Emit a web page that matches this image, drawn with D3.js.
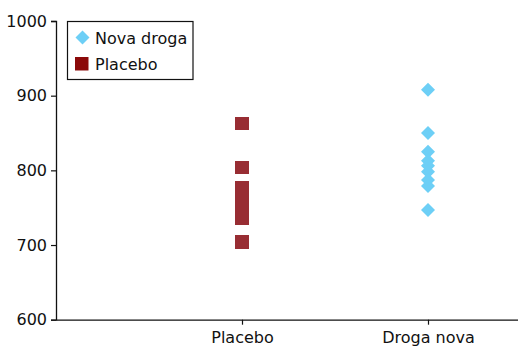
<!DOCTYPE html>
<html>
<head>
<meta charset="utf-8">
<script src="https://d3js.org/d3.v7.min.js"></script>
<style>
  body { margin: 0; background: #fff; }
  svg { display: block; font-family: "DejaVu Sans", sans-serif; }
</style>
</head>
<body>
<svg width="518" height="347" id="mainsvg"></svg>
<script>
  // data
  const categories = ['Placebo', 'Droga nova'];
  const placeboValues = [863, 804, 777, 762, 748, 736, 704];
  const novaValues = [908, 850, 825, 813, 806, 798, 787, 779, 747];
  const yTicks = [600, 700, 800, 900, 1000];
  const legendLabels = ['Nova droga', 'Placebo'];

  const svg = d3.select('#mainsvg');
  const font = '"DejaVu Sans", sans-serif';

  const xScale = d3.scaleLinear().domain([0, 2.5]).range([56, 521]);
  const yScale = d3.scaleLinear().domain([600, 1000]).range([319.7, 21]);

  const colorNova = '#6dcff6';
  const colorPlacebo = '#982d33';
  const colorPlaceboLegend = '#8b0a0a';

  // y axis
  const yAxis = d3.axisLeft(yScale).tickValues(yTicks).tickFormat(d3.format('d'))
    .tickSize(5).tickPadding(4);
  const yg = svg.append('g').attr('transform', 'translate(56,0)').call(yAxis);
  yg.select('.domain').attr('stroke', '#111').attr('stroke-width', 1.3);
  yg.selectAll('.tick line').attr('stroke', '#111').attr('stroke-width', 1.2);
  yg.selectAll('.tick text').attr('font-size', '16px').attr('fill', '#111')
    .attr('font-family', font);

  // x axis
  const xAxis = d3.axisBottom(xScale).tickValues([1, 2])
    .tickFormat(d => categories[d - 1]).tickSize(5).tickSizeOuter(0).tickPadding(7);
  const xg = svg.append('g').attr('transform', `translate(0,${yScale(600)})`).call(xAxis);
  xg.select('.domain').attr('stroke', '#111').attr('stroke-width', 1.3);
  xg.selectAll('.tick line').attr('stroke', '#111').attr('stroke-width', 1.2);
  xg.selectAll('.tick text').attr('font-size', '16px').attr('fill', '#111')
    .attr('font-family', font);

  // placebo squares
  const sq = 13.5;
  svg.append('g').attr('shape-rendering', 'crispEdges')
    .selectAll('rect').data(placeboValues).enter().append('rect')
    .attr('x', xScale(1) - sq / 2)
    .attr('y', d => yScale(d) - sq / 2)
    .attr('width', sq).attr('height', sq)
    .attr('fill', colorPlacebo);

  // nova droga diamonds
  const h = 7;
  const diamond = `M0,${-h}L${h},0L0,${h}L${-h},0Z`;
  svg.append('g').selectAll('path').data(novaValues).enter().append('path')
    .attr('d', diamond)
    .attr('transform', d => `translate(${xScale(2)},${yScale(d)})`)
    .attr('fill', colorNova);

  // legend
  const lg = svg.append('g');
  lg.append('rect').attr('x', 67.5).attr('y', 21.5).attr('width', 125.5).attr('height', 58)
    .attr('fill', '#fff').attr('stroke', '#111').attr('stroke-width', 1.2);
  lg.append('path').attr('d', diamond).attr('transform', 'translate(82.5,37.5)').attr('fill', colorNova);
  lg.append('rect').attr('x', 75).attr('y', 57).attr('width', 13.5).attr('height', 13.5)
    .attr('fill', colorPlaceboLegend);
  lg.selectAll('text.lbl').data(legendLabels).enter().append('text')
    .attr('x', 95)
    .attr('y', (d, i) => 44 + i * 26)
    .attr('font-size', '16px')
    .attr('font-family', font)
    .attr('fill', '#111')
    .text(d => d);
</script>
</body>
</html>
